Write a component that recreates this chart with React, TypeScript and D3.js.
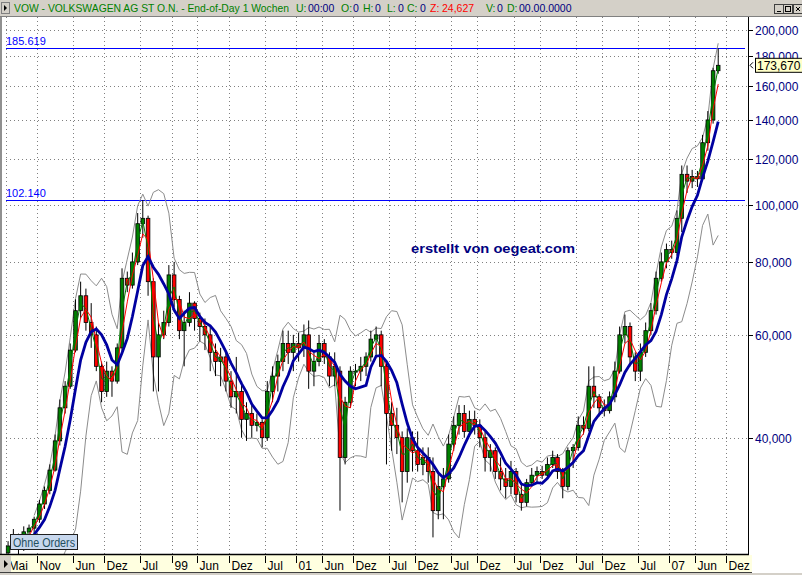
import React from 'react';
import * as d3 from 'd3';

// Monthly candles, May 1996 .. Oct 2007
const firstMonth = [1996, 4];
const opens = [
  25.4, 26.1, 27.2, 25.9, 27.6, 28.0, 29.0, 30.8, 32.5, 35.2, 39.5, 45.0, 49.0, 56.5, 66.0, 70.0, 63.0, 60.0, 53.0, 48.0,
  52.0, 50.0, 57.0, 75.0, 73.0, 80.0, 93.0, 95.0, 74.0, 55.0, 60.0, 63.0, 76.0, 69.0, 61.0, 63.0, 68.0, 64.0, 62.0, 60.0,
  56.0, 54.0, 55.0, 50.0, 47.0, 48.0, 43.0, 44.0, 42.0, 42.5, 40.0, 48.0, 51.0, 54.0, 58.0, 56.0, 58.0, 57.0, 60.0, 52.0,
  54.0, 58.0, 55.0, 51.0, 52.0, 37.0, 46.0, 52.0, 52.0, 53.0, 55.0, 59.0, 60.0, 53.0, 44.0, 42.0, 40.0, 35.0, 40.0, 38.0,
  36.0, 37.0, 35.0, 30.0, 33.0, 34.0, 39.0, 42.0, 44.0, 41.0, 43.0, 42.0, 40.0, 37.0, 38.0, 35.0, 34.0, 33.0, 35.0, 32.0,
  31.0, 33.5, 34.5, 35.0, 34.5, 36.0, 37.0, 35.0, 33.0, 38.0, 38.5, 42.0, 41.5, 49.0, 47.0, 45.0, 44.5, 47.0, 52.0, 60.0,
  62.0, 55.0, 52.0, 56.0, 61.0, 66.0, 75.0, 80.0, 84.0, 83.0, 95.0, 113.0, 110.0, 112.0, 111.0, 128.0, 140.0, 170.0,
];
const highs = [
  26.6, 27.9, 27.4, 28.2, 28.4, 29.3, 31.3, 33.0, 36.0, 40.5, 46.5, 50.0, 58.0, 69.0, 74.0, 72.0, 68.0, 62.0, 54.0, 54.0,
  53.0, 58.0, 78.0, 77.0, 83.0, 97.0, 102.1, 96.0, 75.0, 63.0, 66.0, 79.0, 80.0, 70.0, 66.0, 71.0, 68.5, 65.5, 64.0, 62.0,
  58.0, 57.0, 56.0, 52.0, 55.0, 50.0, 46.0, 45.5, 44.0, 43.0, 50.0, 53.0, 55.5, 61.0, 61.0, 60.0, 60.5, 62.5, 63.5, 56.0,
  60.0, 59.0, 56.0, 56.0, 53.0, 47.0, 53.0, 53.5, 55.0, 56.0, 61.0, 62.0, 61.0, 54.0, 46.0, 45.0, 41.0, 41.5, 41.0, 41.0,
  38.5, 38.5, 37.0, 35.0, 35.5, 40.5, 43.5, 45.5, 45.5, 44.5, 44.5, 43.0, 41.0, 39.0, 38.5, 37.0, 35.5, 36.5, 35.5, 33.5,
  34.0, 35.5, 35.7, 35.8, 37.0, 38.0, 37.5, 35.5, 38.5, 39.0, 43.5, 43.5, 53.0, 53.0, 47.5, 46.5, 48.0, 54.0, 62.0, 65.0,
  63.0, 56.0, 58.0, 63.0, 68.0, 77.0, 83.0, 86.0, 87.0, 98.0, 117.0, 117.0, 115.0, 114.5, 132.0, 145.0, 172.0, 185.619,
];
const lows = [
  24.9, 26.0, 24.6, 25.6, 27.0, 27.4, 28.6, 30.2, 32.0, 35.0, 38.8, 44.0, 48.5, 56.0, 64.0, 61.0, 57.0, 52.0, 46.0, 47.0,
  47.0, 49.5, 56.0, 71.0, 72.0, 79.0, 88.0, 70.0, 48.0, 48.0, 59.0, 62.0, 67.0, 59.0, 53.0, 62.0, 61.0, 58.5, 56.5, 52.0,
  51.0, 49.0, 48.0, 45.0, 44.0, 40.0, 39.5, 40.0, 41.0, 38.5, 39.5, 46.0, 48.0, 52.0, 53.5, 52.0, 54.0, 55.0, 48.5, 49.0,
  53.0, 53.5, 49.0, 49.0, 30.0, 36.0, 45.0, 49.0, 50.0, 51.0, 54.0, 55.0, 49.0, 36.0, 38.0, 37.5, 31.0, 33.5, 35.0, 35.0,
  34.5, 33.5, 27.0, 29.0, 29.0, 33.5, 38.0, 40.5, 40.0, 40.5, 40.5, 38.5, 35.0, 35.0, 34.0, 32.5, 31.5, 32.0, 31.0, 30.0,
  30.5, 33.0, 33.5, 34.0, 34.0, 35.5, 34.0, 31.5, 32.5, 35.5, 38.0, 40.5, 41.0, 45.0, 43.5, 43.5, 44.0, 46.0, 51.5, 58.0,
  53.0, 50.0, 50.0, 55.0, 60.0, 65.0, 74.0, 78.0, 81.0, 82.0, 90.0, 105.0, 107.0, 107.5, 110.0, 124.0, 138.0, 168.0,
];
const closes = [
  26.1, 27.2, 25.9, 27.6, 28.0, 29.0, 30.8, 32.5, 35.2, 39.5, 45.0, 49.0, 56.5, 66.0, 70.0, 63.0, 60.0, 53.0, 48.0, 52.0,
  50.0, 57.0, 75.0, 73.0, 80.0, 93.0, 95.0, 74.0, 55.0, 60.0, 63.0, 76.0, 69.0, 61.0, 63.0, 68.0, 64.0, 62.0, 60.0, 56.0,
  54.0, 55.0, 50.0, 47.0, 48.0, 43.0, 44.0, 42.0, 42.5, 40.0, 48.0, 51.0, 54.0, 58.0, 56.0, 58.0, 57.0, 60.0, 52.0, 54.0,
  58.0, 55.0, 51.0, 53.0, 37.0, 46.0, 52.0, 52.0, 53.0, 55.0, 59.0, 60.0, 53.0, 44.0, 42.0, 40.0, 35.0, 40.0, 38.0, 36.0,
  37.0, 35.0, 30.0, 33.0, 34.0, 39.0, 42.0, 44.0, 41.0, 43.0, 42.0, 40.0, 37.0, 38.0, 35.0, 34.0, 33.0, 35.0, 32.0, 31.0,
  33.5, 34.5, 35.0, 34.5, 36.0, 37.0, 35.0, 33.0, 38.0, 38.5, 42.0, 41.5, 49.0, 47.0, 45.0, 44.5, 47.0, 52.0, 60.0, 62.0,
  55.0, 52.0, 56.0, 61.0, 66.0, 75.0, 80.0, 84.0, 83.0, 95.0, 113.0, 110.0, 112.0, 111.0, 128.0, 140.0, 170.0, 173.67,
];

// Moving average periods (months) and Bollinger settings
const maGreen = 2;
const maRed = 3;
const maBlue = 6;
const bandWidth = 2;

// Time axis ticks
const tickMonths: [number, number][] = [
  [1996, 4], [1996, 10], [1997, 5], [1997, 11], [1998, 6], [1999, 0], [1999, 5], [1999, 11], [2000, 6], [2001, 0],
  [2001, 5], [2001, 11], [2002, 6], [2002, 11], [2003, 6], [2003, 11], [2004, 6], [2004, 11], [2005, 6], [2005, 11],
  [2006, 6], [2007, 0], [2007, 5], [2007, 11],
];
const tickLabels = ['Mai', 'Nov', 'Jun', 'Dez', 'Jul', '99', 'Jun', 'Dez', 'Jul', '01', 'Jun', 'Dez', 'Jul', 'Dez',
  'Jul', 'Dez', 'Jul', 'Dez', 'Jul', 'Dez', 'Jul', '07', 'Jun', 'Dez'];

// Price axis
const priceGrid = [40, 60, 80, 100, 120, 140, 160, 180, 200];
const priceLabels = ['40,000', '60,000', '80,000', '100,000', '120,000', '140,000', '160,000', '180,000', '200,000'];
const levelValues = [185.619, 102.14];
const levelLabels = ['185.619', '102.140'];
const lastPrice = 173.67;
const lastPriceLabel = '173,670';

// Header fields
const headerTitle = 'VOW - VOLKSWAGEN AG ST O.N. - End-of-Day 1 Wochen';
const headerKeys = ['U:', 'O:', 'H:', 'L:', 'C:', 'Z:', 'V:', 'D:'];
const headerVals = ['00:00', '0', '0', '0', '0', '24,627', '0', '00.00.0000'];

const FONT = '"Liberation Sans", Arial, sans-serif';
const W = 802;
const H = 575;
const PL = 2, PR = 748, PT = 17, PB = 554;

function sma(vals: number[], n: number) {
  return vals.map((_, i) => (i < n - 1 ? null : d3.mean(vals.slice(i - n + 1, i + 1)) as number));
}
function sdev(vals: number[], n: number) {
  return vals.map((_, i) => {
    if (i < n - 1) return null;
    const s = vals.slice(i - n + 1, i + 1);
    const m = d3.mean(s) as number;
    return Math.sqrt(d3.mean(s, (v) => (v - m) * (v - m)) as number);
  });
}

export default function App() {
  const x = d3.scaleTime().domain([new Date(1996, 0, 1), new Date(2008, 0, 1)]).range([-14.9, 731.5]);
  const y = d3.scaleLog().domain([40, 200]).range([437.7, 29.5]);

  const cx = closes.map((_, i) => x(new Date(firstMonth[0], firstMonth[1] + i, 15)));

  const g = sma(closes, maGreen);
  const r = sma(closes, maRed);
  const b = sma(closes, maBlue);
  const sd = sdev(closes, maBlue);
  const up = b.map((m, i) => (m == null ? null : m + bandWidth * (sd[i] as number)));
  const lo = b.map((m, i) => (m == null ? null : Math.max(1, m - bandWidth * (sd[i] as number))));

  const line = (vals: (number | null)[]) =>
    d3.line<number | null>()
      .defined((v) => v != null)
      .x((_, i) => cx[i])
      .y((v) => y(v as number))(vals) || '';

  const bw = 3.6;

  // header x positions
  const keyX = [296, 341, 363, 387, 407, 430, 486, 507];
  const valX = [308, 353, 375, 398, 420, 442, 497, 519];

  return (
    <svg width={W} height={H} style={{ position: 'absolute', left: 0, top: 0, background: '#fff', fontFamily: FONT }}>
      <defs>
        <clipPath id="plot"><rect x={PL} y={PT} width={PR - PL} height={PB - PT} /></clipPath>
        <clipPath id="band"><rect x={11} y={555} width={741} height={18} /></clipPath>
      </defs>
      <rect x={0} y={0} width={W} height={H} fill="#fff" />

      {/* grid */}
      <g stroke="#808080" strokeWidth={1} strokeDasharray="1,3">
        {tickMonths.map(([yy, mm], i) => {
          const tx = Math.round(x(new Date(yy, mm, 1))) + 0.5;
          return <line key={'v' + i} x1={tx} x2={tx} y1={PT} y2={PB} />;
        })}
        {priceGrid.map((v, i) => {
          const ty = Math.round(y(v)) + 0.5;
          return <line key={'h' + i} x1={PL + 4} x2={PR} y1={ty} y2={ty} />;
        })}
      </g>

      {/* level lines */}
      {levelValues.map((v, i) => {
        const ty = Math.round(y(v)) + 0.5;
        return (
          <g key={'lv' + i}>
            <line x1={6} x2={745} y1={ty} y2={ty} stroke="#0000ff" strokeWidth={1} />
            <text x={6} y={ty - 4} fontSize={11} fill="#0000ff">{levelLabels[i]}</text>
          </g>
        );
      })}

      <text x={411} y={253} fontSize={13} fontWeight="bold" fill="#000080" textLength={164} lengthAdjust="spacingAndGlyphs">
        erstellt von oegeat.com
      </text>

      <g clipPath="url(#plot)">
        <path d={line(up)} fill="none" stroke="#8c8c8c" strokeWidth={1} />
        <path d={line(lo)} fill="none" stroke="#8c8c8c" strokeWidth={1} />
        {closes.map((c, i) => {
          const o = opens[i];
          const top = y(Math.max(o, c));
          const bot = y(Math.min(o, c));
          const xx = cx[i];
          return (
            <g key={'c' + i}>
              <line x1={xx} x2={xx} y1={y(highs[i])} y2={y(lows[i])} stroke="#000" strokeWidth={1} />
              <rect x={xx - bw / 2} y={top} width={bw} height={Math.max(1, bot - top)}
                fill={c >= o ? '#008000' : '#ff0000'} stroke="#000" strokeWidth={0.8} />
            </g>
          );
        })}
        <path d={line(g)} fill="none" stroke="#008000" strokeWidth={1} />
        <path d={line(r)} fill="none" stroke="#ff0000" strokeWidth={1} />
        <path d={line(b)} fill="none" stroke="#0000a0" strokeWidth={2.8} />
      </g>

      {/* left border */}
      <line x1={1} x2={1} y1={PT} y2={PB} stroke="#909090" strokeWidth={2} />

      {/* right axis */}
      <line x1={PR + 0.5} x2={PR + 0.5} y1={PT} y2={PB + 2} stroke="#000" strokeWidth={1} />
      {priceGrid.map((v, i) => {
        const ty = Math.round(y(v)) + 0.5;
        return (
          <g key={'pl' + i}>
            <line x1={PR} x2={PR + 5} y1={ty} y2={ty} stroke="#000" />
            <text x={755} y={ty + 4.5} fontSize={12} fill="#000080">{priceLabels[i]}</text>
          </g>
        );
      })}
      {(() => {
        const ty = y(lastPrice);
        return (
          <g>
            <path d={`M753,${ty - 3} L750,${ty} L753,${ty + 3}`} fill="none" stroke="#000" strokeWidth={1} />
            <rect x={755.5} y={ty - 7} width={47} height={14} fill="#ffffc8" stroke="#000" strokeWidth={1} />
            <text x={757} y={ty + 4.5} fontSize={12} fill="#000">{lastPriceLabel}</text>
          </g>
        );
      })()}

      {/* Ohne Orders */}
      <rect x={10.5} y={534.5} width={67} height={15} fill="#c8d8ee" stroke="#202020" strokeWidth={1} />
      <text x={13} y={546.5} fontSize={12} fill="#1f4f5f" textLength={62} lengthAdjust="spacingAndGlyphs">Ohne Orders</text>

      {/* bottom axis band */}
      <rect x={0} y={555} width={752} height={18} fill="#ffffe0" />
      <line x1={0} x2={PR + 1} y1={554.5} y2={554.5} stroke="#000" strokeWidth={1.6} />
      <rect x={0} y={573} width={W} height={2} fill="#d4d0c8" />
      <line x1={0} x2={752} y1={572.5} y2={572.5} stroke="#404040" strokeWidth={1} />
      <g clipPath="url(#band)">
        {tickMonths.map(([yy, mm], i) => {
          const tx = Math.round(x(new Date(yy, mm, 1))) + 0.5;
          return (
            <g key={'xt' + i}>
              <line x1={tx} x2={tx} y1={556} y2={563} stroke="#000" strokeWidth={1} />
              <text x={tx + 2} y={570} fontSize={12} fill="#000">{tickLabels[i]}</text>
            </g>
          );
        })}
      </g>
      <rect x={0} y={556} width={11} height={16} fill="#d4d0c8" />
      <path d="M4,560 L8,564 L4,568 Z" fill="#000" />

      {/* title bar */}
      <rect x={0} y={0} width={W} height={16} fill="#d4d0c8" />
      <line x1={0} x2={W} y1={16.5} y2={16.5} stroke="#808080" />
      <rect x={1.5} y={2.5} width={8} height={11} fill="#d4d0c8" stroke="#808080" />
      <path d="M4,5 L7,8 L4,11 Z" fill="#000" />
      <text x={14} y={12} fontSize={10.5} fill="#008000" textLength={275} lengthAdjust="spacingAndGlyphs">
        {headerTitle}
      </text>
      {headerKeys.map((k, i) => (
        <g key={'hk' + i}>
          <text x={keyX[i]} y={12} fontSize={10.5} fill={k === 'Z:' ? '#ff0000' : '#008000'}>{k}</text>
          <text x={valX[i]} y={12} fontSize={10.5} fill={k === 'Z:' ? '#ff0000' : '#000080'}>{headerVals[i]}</text>
        </g>
      ))}
      {/* window buttons */}
      {[774, 783, 793].map((bx, i) => (
        <g key={'wb' + i}>
          <rect x={bx + 0.5} y={4.5} width={9} height={9} fill="#d4d0c8" stroke="#404040" strokeWidth={1} />
          {i === 0 && <line x1={bx + 3} x2={bx + 7} y1={11.5} y2={11.5} stroke="#000" />}
          {i === 1 && <rect x={bx + 2.5} y={6.5} width={5} height={5} fill="none" stroke="#000" />}
          {i === 2 && <path d={`M${bx + 3},7 L${bx + 7},11 M${bx + 7},7 L${bx + 3},11`} stroke="#000" />}
        </g>
      ))}
    </svg>
  );
}
